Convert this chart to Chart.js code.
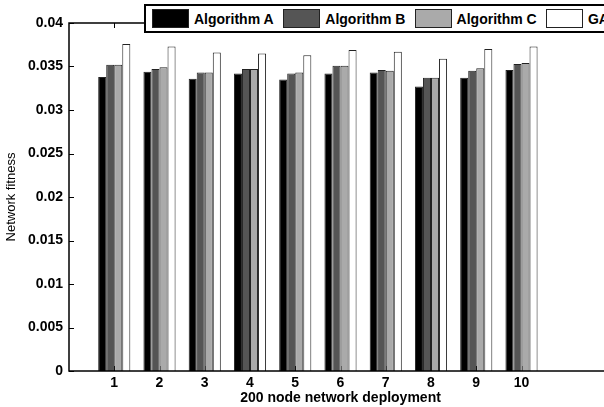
<!DOCTYPE html>
<html lang="en">
<head>
    <meta charset="UTF-8">
    <title>Network fitness - 200 node network deployment</title>
    <script src="https://cdn.jsdelivr.net/npm/chart.js"></script>
    <style>
        html, body {
            margin: 0;
            padding: 0;
            background: #fff;
            overflow: hidden;
        }
        .wrap {
            position: relative;
            width: 612px;
            height: 407px;
        }
        .legend {
            position: absolute;
            left: 144px;
            top: 4px;
            width: 620px;
            height: 25px;
            border: 2px solid #000;
            background: #fff;
            font: bold 14px 'Liberation Sans', Arial, sans-serif;
            color: #000;
        }
        .legend .item {
            position: absolute;
            top: 3px;
            display: flex;
            align-items: center;
            white-space: nowrap;
        }
        .legend .swatch {
            width: 35px;
            height: 17px;
            border: 1px solid #222;
            margin-right: 5px;
        }
    </style>
</head>
<body>

<div class="wrap">
    <canvas id="fitnessChart" width="612" height="407"></canvas>
    <div id="legend" class="legend"></div>
</div>

<script>
    // x positions (deployment number) and values
    const categories = [1, 2, 3, 4, 5, 6, 7, 8, 9, 10];
    const algA = [0.0338, 0.0344, 0.0336, 0.0342, 0.0335, 0.0342, 0.0343, 0.0327, 0.0337, 0.0346];
    const algB = [0.0352, 0.0347, 0.0343, 0.0347, 0.0342, 0.0351, 0.0346, 0.0337, 0.0345, 0.0353];
    const algC = [0.0352, 0.0349, 0.0343, 0.0347, 0.0343, 0.0351, 0.0345, 0.0337, 0.0348, 0.0354];
    const gaVals = [0.0376, 0.0373, 0.0366, 0.0365, 0.0363, 0.0369, 0.0367, 0.0359, 0.0370, 0.0373];
    const yTicks = [0, 0.005, 0.01, 0.015, 0.02, 0.025, 0.03, 0.035, 0.04];

    const seriesNames = ['Algorithm A', 'Algorithm B', 'Algorithm C', 'GA'];
    const seriesColors = ['#000000', '#555555', '#aaaaaa', '#ffffff'];
    const seriesData = [algA, algB, algC, gaVals];

    const FONT = "'Liberation Sans', Arial, sans-serif";

    // box round the plot area + inward tick marks (matlab style)
    const framePlugin = {
        id: 'frame',
        beforeDatasetsDraw(chart) {
            const { ctx, chartArea: a, scales } = chart;
            ctx.save();
            ctx.strokeStyle = '#000';
            ctx.lineWidth = 1;
            ctx.beginPath();
            scales.x.ticks.forEach(t => {
                const px = Math.round(scales.x.getPixelForValue(t.value)) + 0.5;
                ctx.moveTo(px, a.top); ctx.lineTo(px, a.top + 5);
                ctx.moveTo(px, a.bottom); ctx.lineTo(px, a.bottom - 5);
            });
            scales.y.ticks.forEach(t => {
                const py = Math.round(scales.y.getPixelForValue(t.value)) + 0.5;
                ctx.moveTo(a.left, py); ctx.lineTo(a.left + 5, py);
            });
            ctx.stroke();
            ctx.restore();
        },
        afterDatasetsDraw(chart) {
            const { ctx, chartArea: a } = chart;
            ctx.save();
            ctx.strokeStyle = '#000';
            ctx.lineWidth = 1.5;
            ctx.strokeRect(a.left, a.top, a.right - a.left, a.bottom - a.top);
            ctx.restore();
        }
    };

    const ctx = document.getElementById('fitnessChart').getContext('2d');
    const chart = new Chart(ctx, {
        type: 'bar',
        data: {
            datasets: seriesNames.map((name, i) => ({
                label: name,
                data: categories.map((c, j) => ({ x: c, y: seriesData[i][j] })),
                backgroundColor: seriesColors[i],
                borderColor: '#222',
                borderWidth: 1,
                categoryPercentage: 0.71,
                barPercentage: 1.0
            }))
        },
        options: {
            responsive: false,
            animation: false,
            devicePixelRatio: 1,
            layout: { padding: { top: 23, left: 0, right: 0, bottom: 0 } },
            plugins: {
                legend: { display: false },
                tooltip: { enabled: false }
            },
            scales: {
                x: {
                    type: 'linear',
                    min: 0,
                    max: 12,
                    offset: false,
                    grid: { display: false, drawTicks: false },
                    border: { display: false },
                    afterBuildTicks: s => { s.ticks = categories.map(v => ({ value: v })); },
                    afterFit: s => { s.height = 36; },
                    ticks: {
                        color: '#000',
                        padding: 4,
                        maxRotation: 0,
                        font: { family: FONT, size: 14, weight: 'bold' }
                    },
                    title: {
                        display: true,
                        text: '200 node network deployment',
                        color: '#000',
                        padding: { top: 0, bottom: 0 },
                        font: { family: FONT, size: 14, weight: 'bold' }
                    }
                },
                y: {
                    min: 0,
                    max: 0.04,
                    grid: { display: false, drawTicks: false },
                    border: { display: false },
                    afterBuildTicks: s => { s.ticks = yTicks.map(v => ({ value: v })); },
                    afterFit: s => { s.width = 69; },
                    ticks: {
                        color: '#000',
                        padding: 6,
                        font: { family: FONT, size: 14, weight: 'bold' },
                        callback: v => String(Number(v.toFixed(3)))
                    },
                    title: {
                        display: true,
                        text: 'Network fitness',
                        color: '#000',
                        font: { family: FONT, size: 13, weight: 'normal' }
                    }
                }
            }
        },
        plugins: [framePlugin]
    });

    // legend box drawn over the top of the axes, like the original
    const legendEl = document.getElementById('legend');
    chart.data.datasets.forEach((ds, i) => {
        const item = document.createElement('div');
        item.className = 'item';
        item.style.left = (6 + i * 131.3) + 'px';
        const sw = document.createElement('span');
        sw.className = 'swatch';
        sw.style.background = ds.backgroundColor;
        const label = document.createElement('span');
        label.textContent = ds.label;
        item.appendChild(sw);
        item.appendChild(label);
        legendEl.appendChild(item);
    });
</script>

</body>
</html>
